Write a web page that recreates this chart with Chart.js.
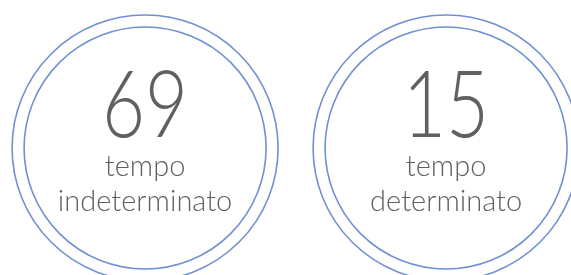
<!DOCTYPE html>
<html>
<head>
<meta charset="utf-8">
<script src="https://cdn.jsdelivr.net/npm/chart.js@4"></script>
<style>
html, body { margin: 0; padding: 0; background: #fff; }
#wrap { width: 571px; height: 275px; }
</style>
</head>
<body>
<div id="wrap"><canvas id="chart"></canvas></div>
<script>
var labels = ["tempo\nindeterminato", "tempo\ndeterminato"];
var values = [69, 15];
var positions = [0, 1];

var ringColor = '#7090d4';
var textColor = '#606060';

// draws the number and label inside each circle
var centerText = {
	id: 'centerText',
	afterDatasetsDraw: function(chart) {
		var ctx = chart.ctx;
		var meta = chart.getDatasetMeta(0);
		ctx.save();
		ctx.fillStyle = textColor;
		ctx.textAlign = 'center';
		ctx.textBaseline = 'alphabetic';
		meta.data.forEach(function(pt, i) {
			var x = pt.x;
			var y = pt.y;
			ctx.font = '300 92px Lato, "Open Sans", sans-serif';
			ctx.fillText(String(values[i]), x, y - 11, 86);
			var lines = labels[i].split('\n');
			ctx.font = '300 29px Lato, "Open Sans", sans-serif';
			lines.forEach(function(line, j) {
				ctx.fillText(line, x, y + 28 + j * 35);
			});
		});
		ctx.restore();
	}
};

var points = positions.map(function(p) { return { x: p, y: 0 }; });

var ctx = document.getElementById('chart');
var myChart = new Chart(ctx, {
	type: 'scatter',
	data: {
		datasets: [
			{ data: points, pointRadius: 133, pointBorderWidth: 1.6, pointBackgroundColor: 'rgba(0,0,0,0)', pointBorderColor: ringColor, clip: false },
			{ data: points, pointRadius: 121, pointBorderWidth: 1.6, pointBackgroundColor: 'rgba(0,0,0,0)', pointBorderColor: ringColor, clip: false }
		]
	},
	options: {
		responsive: true,
		maintainAspectRatio: false,
		animation: false,
		events: [],
		layout: { autoPadding: false, padding: { top: 21, left: 0, right: 0, bottom: 0 } },
		plugins: { legend: { display: false }, tooltip: { enabled: false } },
		scales: {
			x: { type: 'linear', display: false, min: -0.482, max: 1.415 },
			y: { type: 'linear', display: false, min: -1, max: 1 }
		}
	},
	plugins: [centerText]
});
</script>
</body>
</html>
